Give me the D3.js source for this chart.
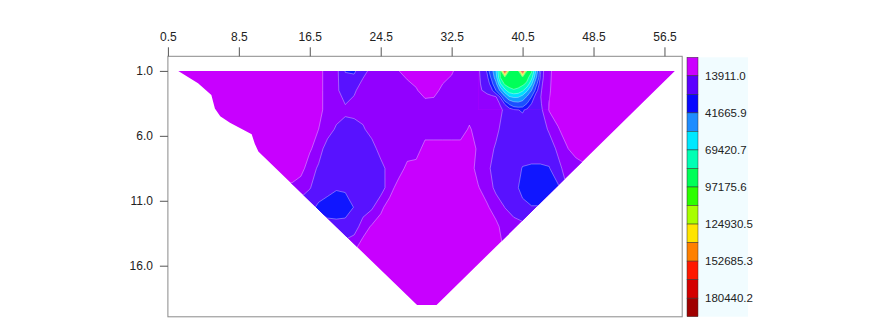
<!DOCTYPE html>
<html>
<head>
<meta charset="utf-8">
<script src="https://cdn.jsdelivr.net/npm/d3@7"></script>
<style>
  body { margin: 0; background: #fff; }
  svg { display: block; font-family: "Liberation Sans", Arial, sans-serif; }
  .axis text { font-size: 12px; fill: #222; }
  .axis line { stroke: #555; }
  .leg text { font-size: 11.5px; fill: #222; }
</style>
</head>
<body>
<svg id="chart" width="875" height="319"></svg>
<script>
// sample positions of the gridded section
const gridX = d3.range(0.5, 58.6, 1);
const gridDepth = [1, 2.5, 4, 5.5, 7, 8.5, 10, 11.5, 13, 14.5, 16, 17.5, 19];

// resistivity, in thousands (one row per depth, one value per x)
const rho = [
  [4,4,4,4,4,4,4,4,4,4,4,4,4,4,4,4,4,4,10.5,12,21,22,16,12,10.5,10.5,7.2,4,4,4,4,4,6,10.5,10.5,13,24,70,190,92,190,70,17,8,4,4,4,4,4,4,4,4,4,4,4,4,4,4,4],
  [4,4,4,4,4,4,4,4,4,4,4,4,4,4,4,4,4,4,10.5,12,19,15,10.5,10.5,10.5,10.5,10.5,10.5,7.5,4.5,5,8.5,10.5,10.5,10.5,13.5,17,32,70,78,72,45,16,7.5,4,4,4,4,4,4,4,4,4,4,4,4,4,4,4],
  [4,4,4,4,4,4,4,4,4,4,4,4,4,4,4,4,4,4,10.5,10.5,12,11,10.5,10.5,10.5,10.5,10.5,10.5,10.5,10.5,10.5,10.5,10.5,10.5,10.5,10.5,10.5,11,15,20,21.5,18,16,6.5,4,4,4,4,4,4,4,4,4,4,4,4,4,4,4],
  [4,4,4,4,4,4,4,4,4,4,4,4,4,4,4,4,4,7,10.5,15,17.5,17.5,15,10.5,10.5,10.5,10.5,10.5,10.5,10.5,10.5,10.5,10.5,10.5,6,10.5,10.5,12,17.5,17.5,17.5,17.5,17.5,13,7.5,4,4,4,4,4,4,4,4,4,4,4,4,4,4],
  [4,4,4,4,4,4,4,4,4,4,4,4,4,4,4,4,6,10.5,17.5,17.5,17.5,17.5,17.5,17.5,10.5,10.5,10.5,10.5,10.5,4,4,4,4,4,4,8,10.5,15,17.5,17.5,17.5,17.5,17.5,17.5,12.5,7.5,4,4,4,4,4,4,4,4,4,4,4,4,4],
  [4,4,4,4,4,4,4,4,4,4,4,4,4,4,4,4.5,10.5,15,17.5,17.5,17.5,17.5,17.5,17.5,17,10.5,10.5,5,4,4,4,4,4,4,4,9.5,12,17.5,17.5,17.5,21.2,21.8,21.8,21.2,16,11,10.5,8,4,4,4,4,4,4,4,4,4,4,4],
  [8,8,8,8,8,8,8,8,8,8,8,8,8,8,8,10.5,13.5,17.5,17.5,20,19.5,17.5,17.5,17.5,17.5,10,4,4,4,4,4,4,4,4,4,6.5,10.5,15.5,17.5,18.5,23,25,25,24,22,14,10.5,8,4,4,4,4,4,4,4,4,4,4,4],
  [17.5,17.5,17.5,17.5,17.5,17.5,17.5,17.5,17.5,17.5,17.5,17.5,17.5,17.5,17.5,17.5,19,22,25,26,25,20.5,17.5,15,8.5,4,4,4,4,4,4,4,4,4,4,4,6,10.5,14,17.5,19,20.5,20.5,17.5,14,10.5,8,4,4,4,4,4,4,4,4,4,4,4,4],
  [17.5,17.5,17.5,17.5,17.5,17.5,17.5,17.5,17.5,17.5,17.5,17.5,17.5,17.5,17.5,17.5,17.5,17.5,17.5,17.5,17.5,17.5,10.5,6,4,4,4,4,4,4,4,4,4,4,4,4,4,5,10.5,10.5,12,13,8,8,8,8,8,8,8,8,8,8,8,8,8,8,8,8,8],
  [14,14,14,14,14,14,14,14,14,14,14,14,14,14,14,14,14,14,14,14,12,9,4,4,4,4,4,4,4,4,4,4,4,4,4,4,4,4,8,8,8,8,8,8,8,8,8,8,8,8,8,8,8,8,8,8,8,8,8],
  [4,4,4,4,4,4,4,4,4,4,4,4,4,4,4,4,4,4,4,4,4,4,4,4,4,4,4,4,4,4,4,4,4,4,4,4,4,4,4,4,4,4,4,4,4,4,4,4,4,4,4,4,4,4,4,4,4,4,4],
  [4,4,4,4,4,4,4,4,4,4,4,4,4,4,4,4,4,4,4,4,4,4,4,4,4,4,4,4,4,4,4,4,4,4,4,4,4,4,4,4,4,4,4,4,4,4,4,4,4,4,4,4,4,4,4,4,4,4,4],
  [4,4,4,4,4,4,4,4,4,4,4,4,4,4,4,4,4,4,4,4,4,4,4,4,4,4,4,4,4,4,4,4,4,4,4,4,4,4,4,4,4,4,4,4,4,4,4,4,4,4,4,4,4,4,4,4,4,4,4]
];

// finer reading of the high anomaly near x = 40, top of the section (thousands)
const topX = d3.range(35.5, 43.6, 0.5);
const topDepth = [1, 1.5, 2, 2.5, 3, 3.5, 4];
const rhoTop = [
  [13, 16, 22, 36, 55, 86, 190, 92, 90, 92, 190, 92, 86, 55, 22, 11, 8],
  [13.2, 15, 19, 30, 50, 84, 92, 92, 90, 92, 92, 88, 75, 45, 20, 11, 7.8],
  [13.3, 14.5, 17, 24, 38, 68, 86, 90, 90, 89, 87, 80, 58, 32, 17, 10.5, 7.7],
  [13.5, 14, 15.5, 19, 28, 45, 65, 78, 82, 80, 72, 58, 42, 24, 15.5, 10, 7.5],
  [12.5, 12.5, 12.5, 12.5, 13.5, 22, 40, 54, 58, 57, 50, 40, 28, 17, 14.5, 9.5, 7.2],
  [11.5, 11.5, 11.5, 11.5, 12, 14.5, 22, 30, 36, 38, 36, 28, 21, 17.5, 15.5, 9, 6.8],
  [10.5, 10.5, 10.5, 10.75, 11, 13, 15, 17.5, 20, 20.75, 21.5, 19.75, 18, 17, 16, 11.25, 6.5]
];

// outline of the section where data exist (x, depth)
const sectionEdge = [[1.67,1],[3.9,1.95],[5.4,2.85],[5.8,3.9],[6.4,4.5],[7.5,5.0],[9.95,5.87],[10.3,6.6],[10.7,7.2],
                     [28.6,19.03],[30.8,19.03],[57.67,1]];

const xTicks = [0.5, 8.5, 16.5, 24.5, 32.5, 40.5, 48.5, 56.5];
const yTicks = [1, 6, 11, 16];

// contour levels of the plot (finer in the low range)
const plotLevels = [33.6, 6972.3, 13911.0, 20849.7, 27788.4, 41665.9, 55543.3, 69420.7, 83298.1, 97175.6,
                    111053.0, 124930.5, 138807.9, 152685.3, 166562.7, 180440.2];
const plotColors = ['#c800ff','#9200ff','#5812ff','#1016ff','#1a50ff','#10a0ff','#00e0ff','#00ffb4',
                    '#00ff58','#2cff00','#a8ff00','#ffe400','#ff8000','#ff1800','#d40000','#a00000'];

// colour bar
const legendLevels = [33.6, 13911.0, 27788.4, 41665.9, 55543.3, 69420.7, 83298.1, 97175.6, 111053.0,
                      124930.5, 138807.9, 152685.3, 166562.7, 180440.2, 194317.6];
const legendColors = ['#cc00ff','#5c00ff','#0808ff','#1e8cff','#00e8ff','#00ffb4','#00ff58','#2cff00',
                      '#a8ff00','#ffe400','#ff8000','#ff1800','#d40000','#a00000'];
const legendTicks = [13911.0, 41665.9, 69420.7, 97175.6, 124930.5, 152685.3, 180440.2];

const svg = d3.select('#chart');

const x = d3.scaleLinear().domain([0.5, 58.5]).range([167.9, 682.2]);
const y = d3.scaleLinear().domain([1, 16]).range([70.9, 265.7]);
const frame = { top: 56.3, bottom: 316.8 };

// clip to section
const edgeLine = d3.line().x(d => x(d[0])).y(d => y(d[1]));
svg.append('clipPath').attr('id', 'sec')
    .append('path').attr('d', edgeLine(sectionEdge) + 'Z');

// clip to the finer patch
svg.append('clipPath').attr('id', 'patch')
    .append('rect')
    .attr('x', x(topX[0])).attr('y', frame.top)
    .attr('width', x(topX[topX.length - 1]) - x(topX[0]))
    .attr('height', y(topDepth[topDepth.length - 1]) - frame.top);

function contourLayer(parent, xs, ds, vals) {
    const nx = xs.length, ny = ds.length;
    const dx = xs[1] - xs[0], dd = ds[1] - ds[0];
    const proj = d3.geoTransform({
        point: function (gx, gy) {
            this.stream.point(x(xs[0] + (gx - 0.5) * dx), y(ds[0] + (gy - 0.5) * dd));
        }
    });
    const geo = d3.geoPath(proj);
    const bands = d3.contours().size([nx, ny]).thresholds(plotLevels)(vals.flat().map(v => v * 1000));
    parent.selectAll('path').data(bands).enter().append('path')
        .attr('d', geo)
        .attr('fill', (d, i) => plotColors[i])
        .attr('stroke', 'rgba(255,255,255,0.5)')
        .attr('stroke-width', 0.7);
}

const sec = svg.append('g').attr('clip-path', 'url(#sec)');
contourLayer(sec.append('g'), gridX, gridDepth, rho);
contourLayer(sec.append('g').attr('clip-path', 'url(#patch)'), topX, topDepth, rhoTop);

// frame
svg.append('rect')
    .attr('x', x.range()[0]).attr('y', frame.top)
    .attr('width', x.range()[1] - x.range()[0]).attr('height', frame.bottom - frame.top)
    .attr('fill', 'none').attr('stroke', '#8a8a8a').attr('stroke-width', 1);

// axes
svg.append('g').attr('class', 'axis')
    .attr('transform', 'translate(0,' + frame.top + ')')
    .call(d3.axisTop(x).tickValues(xTicks).tickSize(9).tickPadding(6.5).tickFormat(d3.format('.1f')))
    .call(g => g.select('.domain').remove());

svg.append('g').attr('class', 'axis')
    .attr('transform', 'translate(' + x.range()[0] + ',0)')
    .call(d3.axisLeft(y).tickValues(yTicks).tickSize(8).tickPadding(7).tickFormat(d3.format('.1f')))
    .call(g => g.select('.domain').remove());

// colour bar
const ly = d3.scaleLinear().domain([legendLevels[0], legendLevels[legendLevels.length - 1]]).range([57.3, 316.7]);
const leg = svg.append('g').attr('class', 'leg');

leg.append('rect')
    .attr('x', 699).attr('y', ly.range()[0])
    .attr('width', 49).attr('height', ly.range()[1] - ly.range()[0])
    .attr('fill', '#f1fcff');

leg.selectAll('rect.band').data(legendColors).enter().append('rect')
    .attr('class', 'band')
    .attr('x', 687).attr('width', 11)
    .attr('y', (d, i) => ly(legendLevels[i]))
    .attr('height', (d, i) => ly(legendLevels[i + 1]) - ly(legendLevels[i]))
    .attr('fill', d => d)
    .attr('stroke', '#333').attr('stroke-width', 0.5);

leg.selectAll('text').data(legendTicks).enter().append('text')
    .attr('x', 705)
    .attr('y', d => ly(d))
    .attr('dy', '0.35em')
    .text(d3.format('.1f'));
</script>
</body>
</html>
